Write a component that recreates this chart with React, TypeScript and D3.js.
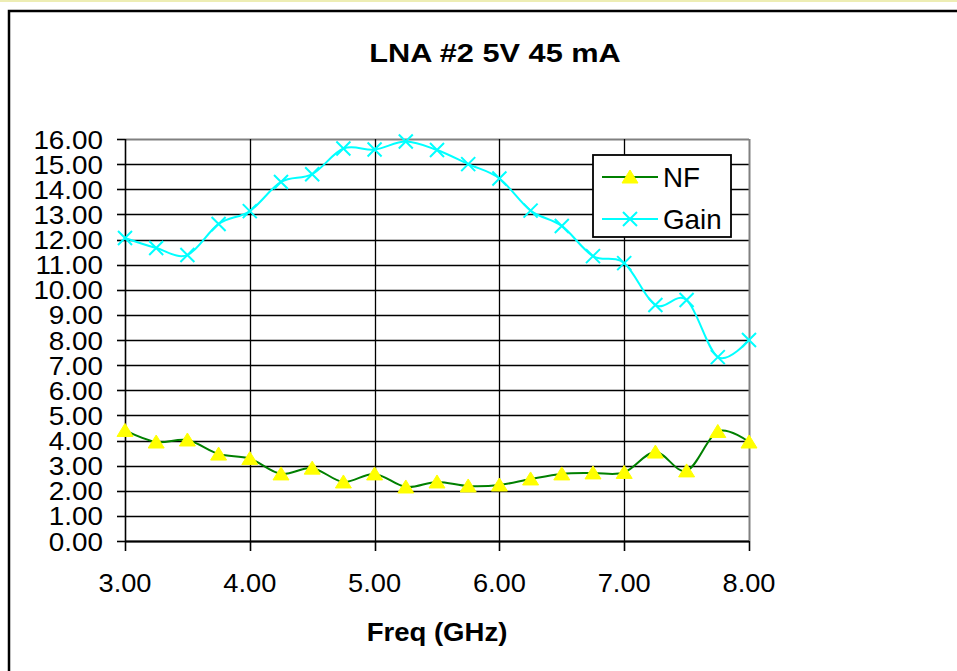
import React from "react";
import * as d3 from "d3";

const title = "LNA #2 5V 45 mA";
const xTitle = "Freq (GHz)";
const freqs = [3.0, 3.25, 3.5, 3.75, 4.0, 4.25, 4.5, 4.75, 5.0, 5.25, 5.5, 5.75, 6.0, 6.25, 6.5, 6.75, 7.0, 7.25, 7.5, 7.75, 8.0];
const nf = [4.4, 3.94, 4.02, 3.46, 3.28, 2.67, 2.9, 2.35, 2.67, 2.15, 2.35, 2.19, 2.23, 2.47, 2.67, 2.71, 2.73, 3.54, 2.79, 4.36, 3.94];
const gain = [12.06, 11.66, 11.38, 12.62, 13.13, 14.29, 14.6, 15.62, 15.58, 15.9, 15.56, 15.0, 14.43, 13.15, 12.54, 11.34, 11.06, 9.39, 9.59, 7.32, 8.0];
const xTicks = [3, 4, 5, 6, 7, 8];
const yTicks = d3.range(0, 17, 1);
const seriesNames = ["NF", "Gain"];

const FONT = "'Liberation Sans', Arial, sans-serif";

function Txt(props: {
  x: number;
  y: number;
  size: number;
  sx: number;
  anchor?: string;
  bold?: boolean;
  children: React.ReactNode;
}) {
  return (
    <g transform={`translate(${props.x},${props.y}) scale(${props.sx},1)`}>
      <text
        x={0}
        y={0}
        textAnchor={props.anchor || "start"}
        fontSize={props.size}
        fontWeight={props.bold ? "bold" : "normal"}
      >
        {props.children}
      </text>
    </g>
  );
}

export default function App() {
  const x = d3.scaleLinear().domain([3, 8]).range([125, 749]);
  const y = d3.scaleLinear().domain([0, 16]).range([541, 139]);
  const line = d3
    .line<number>()
    .x((_, i) => x(freqs[i]))
    .y((d) => y(d))
    .curve(d3.curveCatmullRom.alpha(0));

  const tri = (cx: number, cy: number) =>
    `M${cx},${cy - 7}L${cx + 8},${cy + 6}L${cx - 8},${cy + 6}Z`;
  const cross = (cx: number, cy: number) =>
    `M${cx - 7},${cy - 7}L${cx + 7},${cy + 7}M${cx - 7},${cy + 7}L${cx + 7},${cy - 7}`;

  return (
    <svg
      width={957}
      height={671}
      style={{ position: "absolute", left: 0, top: 0, background: "#fff" }}
      fontFamily={FONT}
    >
      <rect x={0} y={0} width={957} height={2} fill="#EDEDB4" />
      <path d="M9,671V11H957" fill="none" stroke="#000" strokeWidth={2.5} />
      <Txt x={495} y={62} size={26.5} sx={1.16} anchor="middle" bold>
        {title}
      </Txt>

      {/* horizontal gridlines */}
      {yTicks.map((t) => (
        <line
          key={"g" + t}
          x1={x(3)}
          x2={x(8)}
          y1={Math.round(y(t)) + 0.5}
          y2={Math.round(y(t)) + 0.5}
          stroke={t === 16 ? "#808080" : "#000"}
          strokeWidth={t === 16 ? 2 : 1.3}
        />
      ))}
      {/* vertical gridlines */}
      {xTicks.slice(1).map((t) => (
        <line
          key={"v" + t}
          x1={Math.round(x(t)) + 0.5}
          x2={Math.round(x(t)) + 0.5}
          y1={y(16)}
          y2={y(0)}
          stroke={t === 8 ? "#808080" : "#000"}
          strokeWidth={t === 8 ? 2 : 1.3}
        />
      ))}
      {/* axes */}
      <line x1={125.5} x2={125.5} y1={y(16)} y2={y(0)} stroke="#000" strokeWidth={1.6} />
      <line x1={125} x2={749} y1={541.5} y2={541.5} stroke="#000" strokeWidth={2} />
      {yTicks.map((t) => (
        <g key={"yt" + t}>
          <line x1={117} x2={125} y1={Math.round(y(t)) + 0.5} y2={Math.round(y(t)) + 0.5} stroke="#000" strokeWidth={1.6} />
          <Txt x={103} y={y(t) + 9.5} size={26.5} sx={1.05} anchor="end">
            {t.toFixed(2)}
          </Txt>
        </g>
      ))}
      {xTicks.map((t) => (
        <g key={"xt" + t}>
          <line x1={Math.round(x(t)) + 0.5} x2={Math.round(x(t)) + 0.5} y1={541} y2={551} stroke="#000" strokeWidth={1.6} />
          <Txt x={x(t)} y={592} size={25} sx={1.09} anchor="middle">
            {t.toFixed(2)}
          </Txt>
        </g>
      ))}
      <Txt x={437} y={641} size={25.5} sx={1.08} anchor="middle" bold>
        {xTitle}
      </Txt>

      {/* NF series */}
      <path d={line(nf) || ""} fill="none" stroke="#008000" strokeWidth={2} />
      {nf.map((v, i) => (
        <path key={"n" + i} d={tri(x(freqs[i]), y(v))} fill="#FFFF00" stroke="#FFFF00" strokeWidth={1} />
      ))}
      {/* Gain series */}
      <path d={line(gain) || ""} fill="none" stroke="#00FFFF" strokeWidth={2} />
      {gain.map((v, i) => (
        <path key={"c" + i} d={cross(x(freqs[i]), y(v))} fill="none" stroke="#00FFFF" strokeWidth={2} />
      ))}

      {/* legend */}
      <rect x={593} y={155} width={138} height={82} fill="#fff" stroke="#000" strokeWidth={1.8} />
      <line x1={602} x2={658} y1={177} y2={177} stroke="#008000" strokeWidth={2} />
      <path d={tri(630, 177)} fill="#FFFF00" stroke="#FFFF00" strokeWidth={1} />
      <Txt x={663} y={187} size={27} sx={1.03}>
        {seriesNames[0]}
      </Txt>
      <line x1={602} x2={658} y1={219} y2={219} stroke="#00FFFF" strokeWidth={2} />
      <path d={cross(630, 219)} fill="none" stroke="#00FFFF" strokeWidth={2} />
      <Txt x={663} y={229} size={27} sx={1.03}>
        {seriesNames[1]}
      </Txt>
    </svg>
  );
}
